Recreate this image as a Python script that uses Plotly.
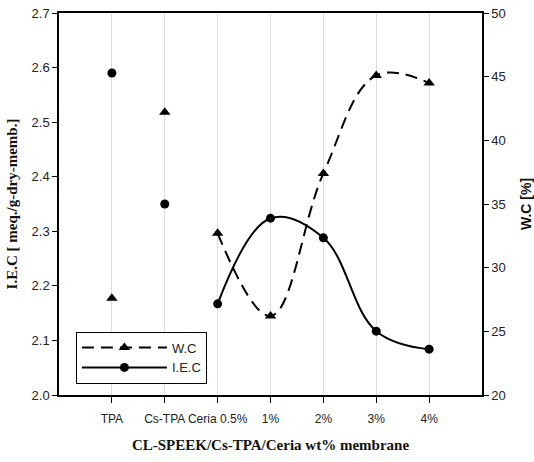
import plotly.graph_objects as go

categories = ["TPA", "Cs-TPA", "Ceria 0.5%", "1%", "2%", "3%", "4%"]
iec = [2.59, 2.35, 2.167, 2.324, 2.288, 2.117, 2.084]
wc = [27.6, 42.2, 32.7, 26.2, 37.4, 45.1, 44.5]
iec_ticks = [2.0, 2.1, 2.2, 2.3, 2.4, 2.5, 2.6, 2.7]
wc_ticks = [20, 25, 30, 35, 40, 45, 50]

xpos = list(range(1, len(categories) + 1))
curve_start = 2  # curves drawn from "Ceria 0.5%" onward

fig = go.Figure()

# W.C (right axis)
fig.add_trace(go.Scatter(
    x=xpos[curve_start:], y=wc[curve_start:], name="W.C", yaxis="y2",
    mode="lines+markers", line=dict(color="black", width=2, dash="12px,7px", shape="spline", smoothing=1.1),
    marker=dict(symbol="triangle-up", size=10, color="black"),
))
fig.add_trace(go.Scatter(
    x=xpos[:curve_start], y=wc[:curve_start], yaxis="y2", showlegend=False,
    mode="markers", marker=dict(symbol="triangle-up", size=10, color="black"),
))
# I.E.C (left axis)
fig.add_trace(go.Scatter(
    x=xpos[curve_start:], y=iec[curve_start:], name="I.E.C",
    mode="lines+markers", line=dict(color="black", width=2, shape="spline", smoothing=1.1),
    marker=dict(symbol="circle", size=9, color="black"),
))
fig.add_trace(go.Scatter(
    x=xpos[:curve_start], y=iec[:curve_start], showlegend=False,
    mode="markers", marker=dict(symbol="circle", size=9, color="black"),
))

tickfont = dict(family="Liberation Sans, Arial", size=13, color="#222")
xtickfont = dict(family="Liberation Sans, Arial", size=12, color="#222")

fig.update_layout(
    width=534, height=462,
    margin=dict(l=59, r=52, t=13, b=67, autoexpand=False),
    paper_bgcolor="white", plot_bgcolor="white",
    showlegend=True,
    legend=dict(x=0.04, y=0.03, xanchor="left", yanchor="bottom",
                bordercolor="black", borderwidth=1, bgcolor="white",
                font=dict(family="Liberation Sans, Arial", size=13, color="#222"),
                tracegroupgap=2, itemwidth=85),
    xaxis=dict(
        range=[0, len(categories) + 1], tickmode="array", tickvals=xpos, ticktext=categories,
        tickangle=0, automargin=False, ticklabelstandoff=6,
        ticks="outside", ticklen=6, tickcolor="black", showline=True, linecolor="black", linewidth=1.5,
        mirror=True, showgrid=True, gridcolor="#dddddd", gridwidth=1, zeroline=False,
        tickfont=xtickfont,
        title=dict(text="<b>CL-SPEEK/Cs-TPA/Ceria wt% membrane</b>",
                   font=dict(family="Liberation Serif, Times New Roman", size=15, color="#111"),
                   standoff=14),
    ),
    yaxis=dict(
        range=[2.0, 2.7], tickmode="array", tickvals=iec_ticks, ticktext=[f"{v:.1f}" for v in iec_ticks],
        automargin=False,
        ticks="outside", ticklen=5, tickcolor="black", showline=True, linecolor="black", linewidth=1.5,
        showgrid=False, zeroline=False, tickfont=tickfont,
        title=dict(text="<b>I.E.C [ meq./g-dry-memb.]</b>",
                   font=dict(family="Liberation Serif, Times New Roman", size=15, color="#111"),
                   standoff=10),
    ),
    yaxis2=dict(
        range=[20, 50], overlaying="y", side="right", tickmode="array", tickvals=wc_ticks,
        automargin=False,
        ticks="outside", ticklen=5, tickcolor="black", showline=True, linecolor="black", linewidth=1.5,
        showgrid=False, zeroline=False, tickfont=tickfont,
        title=dict(text="<b>W.C [%]</b>",
                   font=dict(family="Liberation Sans, Arial", size=14, color="#111"),
                   standoff=16),
    ),
)

fig.write_html("out.html")
